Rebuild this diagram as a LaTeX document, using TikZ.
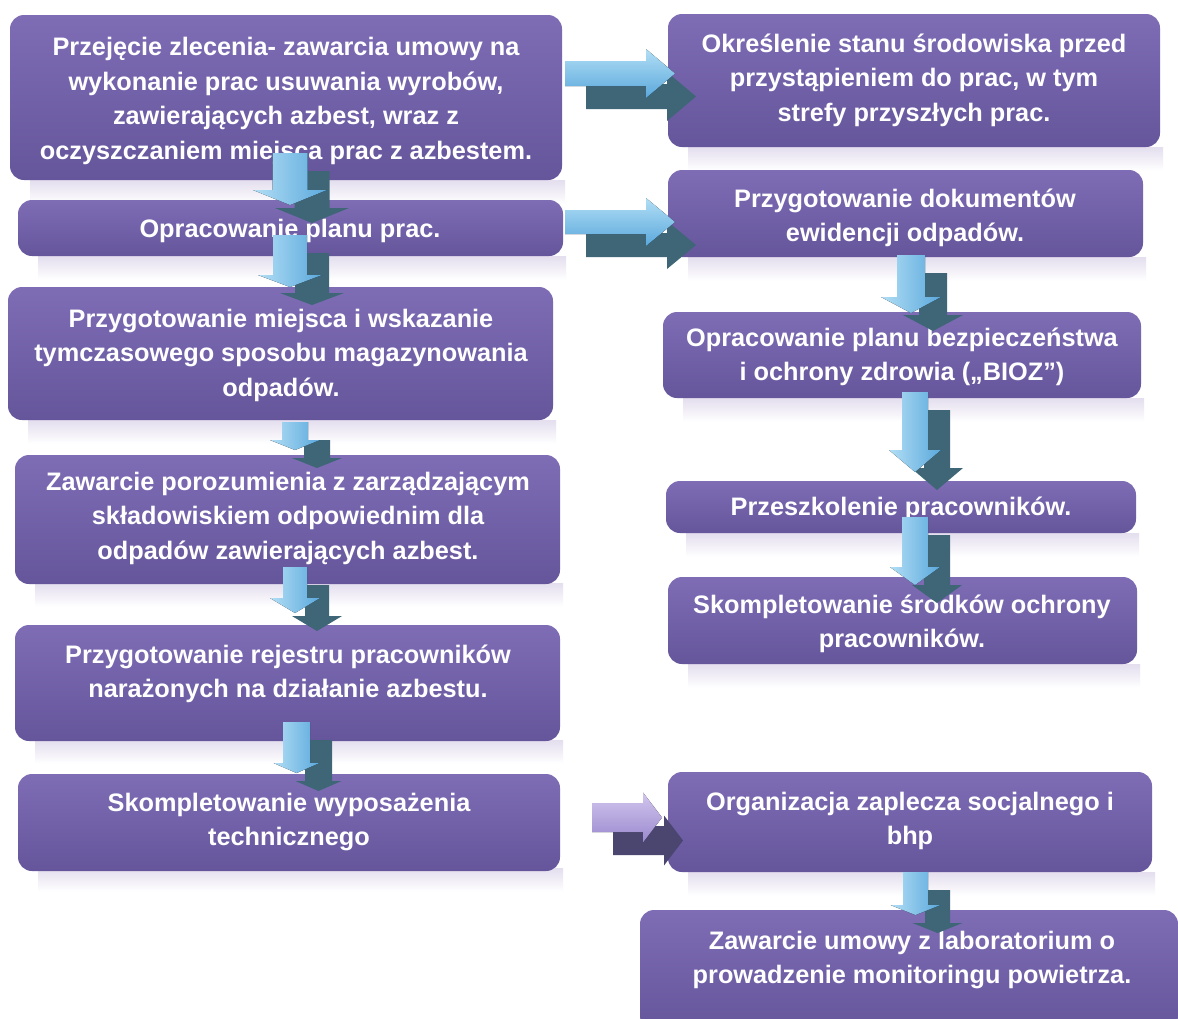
\documentclass[tikz,border=0pt]{standalone}
\usepackage{fontspec}
\setmainfont{Liberation Sans}
\definecolor{boxtop}{HTML}{7E6DB5}
\definecolor{boxbot}{HTML}{65559B}
\definecolor{refltop}{HTML}{E4DEEE}
\definecolor{arrlt}{HTML}{B2DEF5}
\definecolor{arrdk}{HTML}{5AA8DC}
\definecolor{shadowc}{HTML}{3E6677}
\definecolor{lavlt}{HTML}{D2C6EE}
\definecolor{lavdk}{HTML}{9A88CE}
\definecolor{lavshadow}{HTML}{4A4670}
\tikzset{
  box/.style={rounded corners=14pt, top color=boxtop, bottom color=boxbot, draw=none, inner sep=0pt},
  txt/.style={text=white, font=\fontsize{25.3}{34.5}\selectfont\bfseries, align=center, inner sep=0pt},
  refl/.style={top color=refltop, bottom color=white, draw=none},
  vlight/.style={left color=arrlt, right color=arrdk, draw=none},
  hlight/.style={top color=arrlt, bottom color=arrdk, draw=none},
  lavlight/.style={top color=lavlt, bottom color=lavdk, draw=none},
  shad/.style={fill=shadowc, draw=none},
  hshad/.style={fill=shadowc, draw=none},
  lavshad/.style={fill=lavshadow, draw=none},
}
% down arrow: cx, top, headstart, tip, shaft half, head half, style
\newcommand\DownArr[7]{%
  \fill[#7] (#1-#5,#2) -- (#1+#5,#2) -- (#1+#5,#3) -- (#1+#6,#3) -- (#1,#4) -- (#1-#6,#3) -- (#1-#5,#3) -- cycle;}
% right arrow: cy, left, headstart, tip, shaft half, head half, style
\newcommand\RightArr[7]{%
  \fill[#7] (#2,#1-#5) -- (#3,#1-#5) -- (#3,#1-#6) -- (#4,#1) -- (#3,#1+#6) -- (#3,#1+#5) -- (#2,#1+#5) -- cycle;}
\newcommand\DArrow[6]{%
  \begin{scope}[shift={(22,18)}]\DownArr{#1}{#2}{#3}{#4}{#5}{#6}{shad}\end{scope}
  \DownArr{#1}{#2}{#3}{#4}{#5}{#6}{vlight}}
\newcommand\RArrow[7]{%
  \begin{scope}[shift={(21,23)}]\RightArr{#1}{#2}{#3}{#4}{#5}{#6}{#7shad}\end{scope}
  \RightArr{#1}{#2}{#3}{#4}{#5}{#6}{#7light}}
\begin{document}
\begin{tikzpicture}[x=1pt,y=-1pt]
\useasboundingbox[fill=white] (0,0) rectangle (1178,1018);
% reflections
\foreach \l/\r/\b in {30/565/180, 38/566/256, 28/556/420, 35/563/583, 35/563/740, 38/563/868,
  688/1163/147, 688/1146/257, 683/1144/398, 686/1139/533, 688/1140/664, 688/1155/872}
  \fill[refl] (\l,\b) rectangle (\r,\b+24);
% left boxes
\node[box, minimum width=552pt, minimum height=165pt] (b1) at (286,97.5) {};
\node[box, minimum width=545pt, minimum height=56pt] (b2) at (290.5,228) {};
\node[box, minimum width=545pt, minimum height=133pt] (b3) at (280.5,353.5) {};
\node[box, minimum width=545pt, minimum height=129pt] (b4) at (287.5,519.5) {};
\node[box, minimum width=545pt, minimum height=116pt] (b5) at (287.5,683) {};
\node[box, minimum width=542pt, minimum height=97pt] (b6) at (289,822.5) {};
% right boxes
\node[box, minimum width=492pt, minimum height=133pt] (r1) at (914,80.5) {};
\node[box, minimum width=475pt, minimum height=87pt] (r2) at (905.5,213.5) {};
\node[box, minimum width=478pt, minimum height=86pt] (r3) at (902,355) {};
\node[box, minimum width=470pt, minimum height=52pt] (r4) at (901,507) {};
\node[box, minimum width=469pt, minimum height=87pt] (r5) at (902.5,620.5) {};
\node[box, minimum width=484pt, minimum height=100pt] (r6) at (910,822) {};
\node[box, minimum width=538pt, minimum height=120pt] (r7) at (909,970) {};
% texts
\node[txt] (t1) at (286,101) {Przejęcie zlecenia- zawarcia umowy na\\wykonanie prac usuwania wyrobów,\\zawierających azbest, wraz z\\oczyszczaniem miejsca prac z azbestem.};
\node[txt] (t2) at (290,231) {Opracowanie planu prac.};
\node[txt] (t3) at (281,355) {Przygotowanie miejsca i wskazanie\\tymczasowego sposobu magazynowania\\odpadów.};
\node[txt] (t4) at (288,518) {Zawarcie porozumienia z zarządzającym\\składowiskiem odpowiednim dla\\odpadów zawierających azbest.};
\node[txt] (t5) at (288,674) {Przygotowanie rejestru pracowników\\narażonych na działanie azbestu.};
\node[txt] (t6) at (289,822) {Skompletowanie wyposażenia\\technicznego};
\node[txt] (u1) at (914,80) {Określenie stanu środowiska przed\\przystąpieniem do prac, w tym\\strefy przyszłych prac.};
\node[txt] (u2) at (905,218) {Przygotowanie dokumentów\\ewidencji odpadów.};
\node[txt] (u3) at (902,357) {Opracowanie planu bezpieczeństwa\\i ochrony zdrowia („BIOZ”)};
\node[txt] (u4) at (901,509) {Przeszkolenie pracowników.};
\node[txt] (u5) at (902,624) {Skompletowanie środków ochrony\\pracowników.};
\node[txt] (u6) at (910,821) {Organizacja zaplecza socjalnego i\\bhp};
\node[txt] (u7) at (912,960) {Zawarcie umowy z laboratorium o\\prowadzenie monitoringu powietrza.};
% horizontal arrows
\RArrow{73.5}{565}{646}{675}{12.5}{24.5}{h}
\RArrow{222}{565}{646}{675}{12}{24}{h}
\RArrow{817.5}{592}{643}{662}{14.5}{25}{lav}
% down arrows
\DArrow{290}{153}{190}{205}{17.5}{37}
\DArrow{290}{235}{275}{287}{17}{32}
\DArrow{295}{422}{440}{450}{13}{25}
\DArrow{295}{567}{598}{613}{12}{25}
\DArrow{296.5}{722}{763}{773}{13.5}{23}
\DArrow{911}{255}{297}{313}{14}{30}
\DArrow{915}{392}{450}{472}{13}{26}
\DArrow{915}{517}{567}{585}{13}{25}
\DArrow{915.5}{872}{905}{915}{12.5}{25}
\end{tikzpicture}
\end{document}
